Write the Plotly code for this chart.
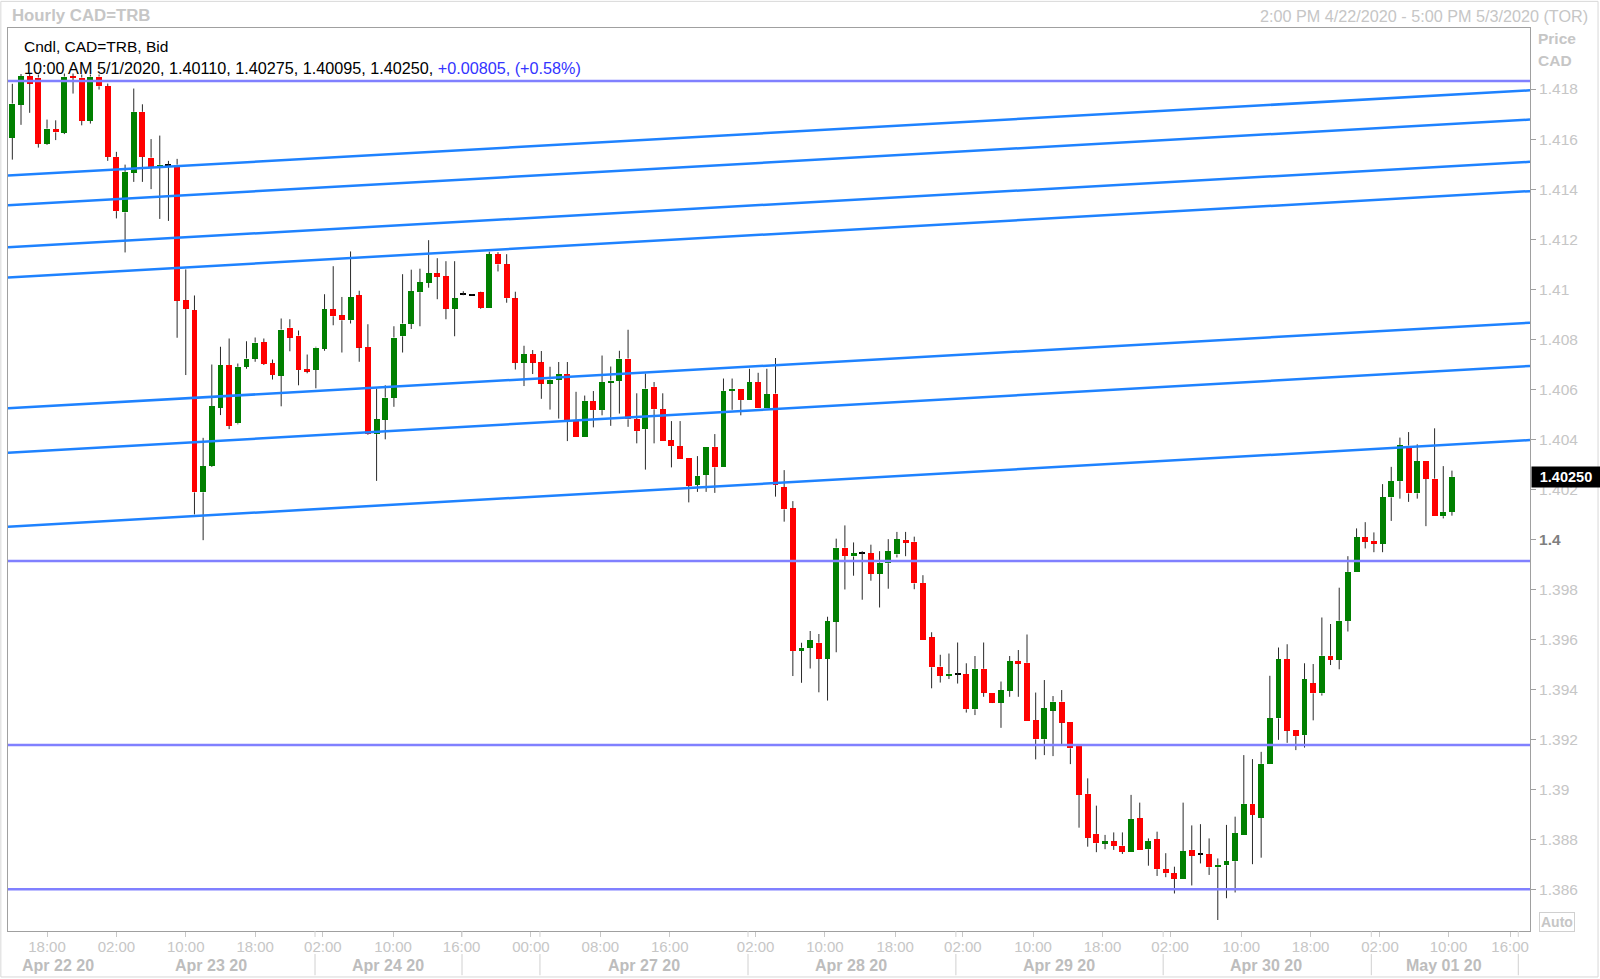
import plotly.graph_objects as go

# ---------------- data ----------------
opens = [1.41605, 1.41738, 1.41851, 1.41846, 1.41582, 1.41640, 1.41626, 1.41850, 1.41846, 1.41673,
         1.41850, 1.41811, 1.41529, 1.41307, 1.41465, 1.41709, 1.41526, 1.41486, 1.41497, 1.41498,
         1.40956, 1.40916, 1.40188, 1.40294, 1.40527, 1.40697, 1.40464, 1.40690, 1.40723, 1.40788,
         1.40704, 1.40655, 1.40846, 1.40815, 1.40680, 1.40677, 1.40763, 1.40919, 1.40895, 1.40876,
         1.40975, 1.40769, 1.40421, 1.40478, 1.40567, 1.40812, 1.40861, 1.40988, 1.41026, 1.41063,
         1.41052, 1.40922, 1.40979, 1.40978, 1.40987, 1.40926, 1.41140, 1.41099, 1.40963, 1.40707,
         1.40741, 1.40708, 1.40623, 1.40639, 1.40661, 1.40474, 1.40410, 1.40553, 1.40517, 1.40629,
         1.40633, 1.40723, 1.40480, 1.40441, 1.40610, 1.40520, 1.40397, 1.40373, 1.40324, 1.40219,
         1.40258, 1.40370, 1.40288, 1.40594, 1.40602, 1.40557, 1.40629, 1.40527, 1.40583, 1.40208,
         1.40124, 1.39554, 1.39566, 1.39587, 1.39523, 1.39671, 1.39967, 1.39932, 1.39945, 1.39945,
         1.39862, 1.39905, 1.39940, 1.39998, 1.39991, 1.39826, 1.39609, 1.39492, 1.39455, 1.39462,
         1.39462, 1.39321, 1.39483, 1.39388, 1.39348, 1.39395, 1.39514, 1.39507, 1.39278, 1.39201,
         1.39316, 1.39352, 1.39272, 1.39175, 1.38983, 1.38823, 1.38786, 1.38793, 1.38776, 1.38751,
         1.38885, 1.38762, 1.38802, 1.38682, 1.38666, 1.38644, 1.38759, 1.38742, 1.38742, 1.38690,
         1.38698, 1.38714, 1.38819, 1.38943, 1.38888, 1.39103, 1.39285, 1.39522, 1.39239, 1.39218,
         1.39425, 1.39385, 1.39535, 1.39518, 1.39675, 1.39868, 1.40008, 1.39994, 1.39983, 1.40168,
         1.40233, 1.40375, 1.40184, 1.40313, 1.40243, 1.40093, 1.40110]
highs = [1.41821, 1.41860, 1.41860, 1.41858, 1.41678, 1.41675, 1.41862, 1.41862, 1.41858, 1.41858,
         1.41858, 1.41822, 1.41549, 1.41498, 1.41802, 1.41739, 1.41600, 1.41614, 1.41513, 1.41521,
         1.41079, 1.40975, 1.40406, 1.40699, 1.40770, 1.40803, 1.40703, 1.40792, 1.40807, 1.40803,
         1.40719, 1.40883, 1.40880, 1.40835, 1.40739, 1.40770, 1.40980, 1.41092, 1.40969, 1.41151,
         1.40994, 1.40860, 1.40603, 1.40616, 1.40852, 1.41060, 1.41078, 1.41082, 1.41196, 1.41124,
         1.41112, 1.41112, 1.40992, 1.40980, 1.40990, 1.41150, 1.41148, 1.41140, 1.40990, 1.40774,
         1.40757, 1.40753, 1.40690, 1.40709, 1.40709, 1.40590, 1.40575, 1.40593, 1.40735, 1.40691,
         1.40754, 1.40838, 1.40584, 1.40663, 1.40629, 1.40584, 1.40473, 1.40473, 1.40324, 1.40333,
         1.40370, 1.40421, 1.40643, 1.40643, 1.40602, 1.40682, 1.40666, 1.40682, 1.40725, 1.40277,
         1.40153, 1.39587, 1.39634, 1.39622, 1.39691, 1.40003, 1.40056, 1.39988, 1.39953, 1.39979,
         1.39953, 1.40001, 1.40030, 1.40030, 1.40011, 1.39857, 1.39629, 1.39539, 1.39544, 1.39588,
         1.39505, 1.39534, 1.39588, 1.39388, 1.39432, 1.39534, 1.39558, 1.39620, 1.39388, 1.39438,
         1.39374, 1.39398, 1.39272, 1.39175, 1.39045, 1.38936, 1.38819, 1.38829, 1.38829, 1.38979,
         1.38948, 1.38805, 1.38832, 1.38746, 1.38692, 1.38948, 1.38857, 1.38862, 1.38805, 1.38725,
         1.38859, 1.38892, 1.39138, 1.39122, 1.39151, 1.39455, 1.39568, 1.39581, 1.39239, 1.39505,
         1.39502, 1.39688, 1.39662, 1.39807, 1.39933, 1.40044, 1.40069, 1.40028, 1.40221, 1.40290,
         1.40407, 1.40429, 1.40380, 1.40313, 1.40444, 1.40293, 1.40275]
lows = [1.41518, 1.41657, 1.41705, 1.41566, 1.41577, 1.41596, 1.41620, 1.41782, 1.41655, 1.41662,
        1.41798, 1.41513, 1.41283, 1.41147, 1.41429, 1.41429, 1.41400, 1.41281, 1.41273, 1.40806,
        1.40657, 1.40100, 1.39997, 1.40290, 1.40497, 1.40441, 1.40460, 1.40682, 1.40710, 1.40697,
        1.40639, 1.40532, 1.40752, 1.40616, 1.40664, 1.40604, 1.40754, 1.40856, 1.40747, 1.40863,
        1.40710, 1.40418, 1.40234, 1.40400, 1.40530, 1.40747, 1.40841, 1.40852, 1.41006, 1.40960,
        1.40880, 1.40812, 1.40976, 1.40976, 1.40922, 1.40926, 1.41071, 1.40946, 1.40679, 1.40613,
        1.40661, 1.40562, 1.40519, 1.40483, 1.40393, 1.40410, 1.40410, 1.40448, 1.40496, 1.40454,
        1.40503, 1.40450, 1.40384, 1.40279, 1.40384, 1.40393, 1.40288, 1.40322, 1.40148, 1.40190,
        1.40190, 1.40186, 1.40288, 1.40518, 1.40496, 1.40557, 1.40527, 1.40527, 1.40171, 1.40071,
        1.39454, 1.39427, 1.39484, 1.39389, 1.39356, 1.39549, 1.39800, 1.39855, 1.39759, 1.39835,
        1.39728, 1.39803, 1.39928, 1.39933, 1.39801, 1.39598, 1.39405, 1.39428, 1.39442, 1.39424,
        1.39308, 1.39298, 1.39371, 1.39346, 1.39247, 1.39371, 1.39371, 1.39276, 1.39121, 1.39138,
        1.39134, 1.39181, 1.39102, 1.38848, 1.38772, 1.38750, 1.38762, 1.38759, 1.38743, 1.38751,
        1.38759, 1.38696, 1.38655, 1.38650, 1.38585, 1.38644, 1.38617, 1.38705, 1.38659, 1.38479,
        1.38566, 1.38589, 1.38819, 1.38702, 1.38728, 1.39103, 1.39199, 1.39187, 1.39158, 1.39168,
        1.39277, 1.39376, 1.39498, 1.39481, 1.39632, 1.39868, 1.39964, 1.39949, 1.39949, 1.40074,
        1.40163, 1.40150, 1.40163, 1.40053, 1.40093, 1.40084, 1.40095]
closes = [1.41742, 1.41851, 1.41822, 1.41582, 1.41642, 1.41627, 1.41850, 1.41845, 1.41673, 1.41850,
          1.41811, 1.41529, 1.41312, 1.41469, 1.41709, 1.41529, 1.41489, 1.41497, 1.41497, 1.40954,
          1.40922, 1.40188, 1.40293, 1.40533, 1.40697, 1.40454, 1.40690, 1.40723, 1.40787, 1.40701,
          1.40657, 1.40839, 1.40807, 1.40677, 1.40673, 1.40767, 1.40919, 1.40892, 1.40876, 1.40967,
          1.40767, 1.40421, 1.40480, 1.40567, 1.40807, 1.40863, 1.40991, 1.41028, 1.41063, 1.41050,
          1.40922, 1.40963, 1.40979, 1.40978, 1.40926, 1.41140, 1.41099, 1.40964, 1.40707, 1.40741,
          1.40707, 1.40623, 1.40639, 1.40661, 1.40477, 1.40410, 1.40554, 1.40517, 1.40629, 1.40635,
          1.40723, 1.40480, 1.40433, 1.40603, 1.40520, 1.40393, 1.40373, 1.40322, 1.40215, 1.40254,
          1.40370, 1.40288, 1.40594, 1.40602, 1.40557, 1.40629, 1.40527, 1.40581, 1.40217, 1.40120,
          1.39554, 1.39567, 1.39598, 1.39523, 1.39674, 1.39967, 1.39934, 1.39945, 1.39945, 1.39862,
          1.39907, 1.39953, 1.40001, 1.39987, 1.39824, 1.39598, 1.39489, 1.39455, 1.39463, 1.39462,
          1.39321, 1.39483, 1.39388, 1.39348, 1.39397, 1.39514, 1.39503, 1.39276, 1.39201, 1.39325,
          1.39352, 1.39268, 1.39165, 1.38979, 1.38807, 1.38786, 1.38793, 1.38775, 1.38751, 1.38882,
          1.38759, 1.38795, 1.38682, 1.38666, 1.38644, 1.38754, 1.38736, 1.38742, 1.38690, 1.38699,
          1.38715, 1.38826, 1.38943, 1.38899, 1.39103, 1.39285, 1.39522, 1.39236, 1.39214, 1.39441,
          1.39385, 1.39535, 1.39518, 1.39675, 1.39870, 1.40008, 1.39991, 1.39983, 1.40168, 1.40233,
          1.40377, 1.40184, 1.40313, 1.40242, 1.40093, 1.40110, 1.40250]

hour_tick_pos = [4, 12, 20, 28, 35.8, 43.9, 51.8, 59.8, 67.8, 75.8, 85.7, 93.7, 101.8,
                 109.6, 117.7, 125.7, 133.5, 141.7, 149.7, 157.7, 165.6, 172.7]
hour_tick_text = ["18:00", "02:00", "10:00", "18:00", "02:00", "10:00", "16:00", "00:00",
                  "08:00", "16:00", "02:00", "10:00", "18:00", "02:00", "10:00", "18:00",
                  "02:00", "10:00", "18:00", "02:00", "10:00", "16:00"]
day_label_pos = [5.3, 22.9, 43.3, 72.8, 96.7, 120.7, 144.6, 165.1]
day_label_text = ["Apr 22 20", "Apr 23 20", "Apr 24 20", "Apr 27 20",
                  "Apr 28 20", "Apr 29 20", "Apr 30 20", "May 01 20"]
day_sep_pos = [34.9, 51.85, 60.84, 84.83, 108.8, 132.7, 156.7, 173.65]

y_tick_vals = [1.386, 1.388, 1.390, 1.392, 1.394, 1.396, 1.398, 1.400, 1.402,
               1.404, 1.406, 1.408, 1.410, 1.412, 1.414, 1.416, 1.418]
y_tick_text = ["1.386", "1.388", "1.39", "1.392", "1.394", "1.396", "1.398",
               "<span style='color:#7f7f7f'><b>1.4</b></span>", "1.402", "1.404", "1.406",
               "1.408", "1.41", "1.412", "1.414", "1.416", "1.418"]

h_levels = [1.41832, 1.39914, 1.39178, 1.38602]
chan_left = [1.41454, 1.41336, 1.41168, 1.41047, 1.40524, 1.40346, 1.40051]
chan_right = [1.41795, 1.41678, 1.41509, 1.41392, 1.40866, 1.40693, 1.40397]

last_price = 1.40250
x_min, x_max = -0.5, 175.0
y_min, y_max = 1.38435, 1.42044

# ---------------- build ----------------
FONT = "Liberation Sans, Arial, sans-serif"
GRAY = "#c6c6c6"
n = len(opens)
idx = list(range(n))

wx, wy = [], []
bases, heights, colors = [], [], []
for i in idx:
    o, h, l, c = opens[i], highs[i], lows[i], closes[i]
    top, bot = max(o, c), min(o, c)
    wx += [i, i, None, i, i, None]
    wy += [top, h, None, bot, l, None]
    if c > o:
        col = "#008000"
    elif c < o:
        col = "#ff0000"
    else:
        col = "#000000"
    hgt = max(top - bot, 0.00004)
    bases.append((top + bot) / 2 - hgt / 2)
    heights.append(hgt)
    colors.append(col)

fig = go.Figure()
fig.add_trace(go.Scatter(x=wx, y=wy, mode="lines", line=dict(color="#2a2a2a", width=1),
                         hoverinfo="skip", showlegend=False))
fig.add_trace(go.Bar(x=idx, y=heights, base=bases, width=0.68,
                     marker=dict(color=colors, line=dict(width=0)),
                     hoverinfo="skip", showlegend=False))

shapes = []
for lv in h_levels:
    shapes.append(dict(type="line", xref="paper", yref="y", x0=0, x1=1, y0=lv, y1=lv,
                       line=dict(color="#8080ff", width=2.5)))
for a, b in zip(chan_left, chan_right):
    shapes.append(dict(type="line", xref="x", yref="y", x0=x_min, x1=x_max, y0=a, y1=b,
                       line=dict(color="#1e82ff", width=2.5)))
for s in day_sep_pos:
    shapes.append(dict(type="line", xref="x", yref="paper", x0=s, x1=s, y0=-0.0255, y1=-0.049,
                       line=dict(color="#d0d0d0", width=1)))
    shapes.append(dict(type="line", xref="x", yref="paper", x0=s, x1=s, y0=0, y1=-0.0066,
                       line=dict(color="#d0d0d0", width=1)))
# outer window frame
shapes.append(dict(type="rect", xref="paper", yref="paper", x0=-0.0047, x1=1.0447,
                   y0=-0.0509, y1=1.0295, line=dict(color="#d8d8d8", width=1)))

ann = []
ann.append(dict(xref="paper", yref="paper", x=0.0012, y=1.0134, xanchor="left", yanchor="middle",
                text="<b>Hourly CAD=TRB</b>", showarrow=False,
                font=dict(family=FONT, size=16.8, color=GRAY)))
ann.append(dict(xref="paper", yref="paper", x=1.0394, y=1.0134, xanchor="right", yanchor="middle",
                text="2:00 PM 4/22/2020 - 5:00 PM 5/3/2020 (TOR)", showarrow=False,
                font=dict(family=FONT, size=16.2, color=GRAY)))
ann.append(dict(xref="paper", yref="paper", x=1.004, y=0.9885, xanchor="left", yanchor="middle",
                text="<b>Price</b>", showarrow=False, font=dict(family=FONT, size=15.5, color=GRAY)))
ann.append(dict(xref="paper", yref="paper", x=1.004, y=0.9641, xanchor="left", yanchor="middle",
                text="<b>CAD</b>", showarrow=False, font=dict(family=FONT, size=15.5, color=GRAY)))
ann.append(dict(xref="paper", yref="paper", x=0.0091, y=0.9796, xanchor="left", yanchor="middle",
                text="Cndl, CAD=TRB, Bid", showarrow=False,
                font=dict(family=FONT, size=15.5, color="#000000")))
ann.append(dict(xref="paper", yref="paper", x=0.0091, y=0.9558, xanchor="left", yanchor="middle",
                text="10:00 AM 5/1/2020, 1.40110, 1.40275, 1.40095, 1.40250, "
                     "<span style='color:#3434ff'>+0.00805, (+0.58%)</span>",
                showarrow=False, font=dict(family=FONT, size=16.2, color="#000000")))
ann.append(dict(xref="paper", yref="y", x=1.0007, y=last_price, xanchor="left", yanchor="middle",
                text="<b>1.40250</b>", showarrow=False, bgcolor="#000000", width=66, height=18,
                font=dict(family=FONT, size=14.5, color="#ffffff")))
ann.append(dict(xref="paper", yref="paper", x=1.0178, y=0.0105, xanchor="center", yanchor="middle",
                text="<b>Auto</b>", showarrow=False, bordercolor="#d0d0d0", borderwidth=1, borderpad=1,
                font=dict(family=FONT, size=14, color=GRAY)))
for p, t in zip(day_label_pos, day_label_text):
    ann.append(dict(xref="x", yref="paper", x=p, y=-0.0385, xanchor="center", yanchor="middle",
                    text="<b>" + t + "</b>", showarrow=False,
                    font=dict(family=FONT, size=16, color="#bdbdbd")))

fig.update_layout(
    width=1600, height=979,
    margin=dict(l=8, r=70, t=28, b=48, autoexpand=False),
    paper_bgcolor="white", plot_bgcolor="white",
    shapes=shapes, annotations=ann, showlegend=False, bargap=0,
    font=dict(family=FONT),
)
fig.update_xaxes(range=[x_min, x_max], tickmode="array", tickvals=hour_tick_pos,
                 ticktext=hour_tick_text, ticks="outside", ticklen=5, tickcolor="#c8c8c8",
                 ticklabelstandoff=-3,
                 tickfont=dict(family=FONT, size=15, color=GRAY), showgrid=False, zeroline=False,
                 showline=True, linecolor="#a0a0a0", linewidth=1, mirror=True, fixedrange=True,
                 automargin=False)
fig.update_yaxes(range=[y_min, y_max], side="right", tickmode="array", tickvals=y_tick_vals,
                 ticktext=y_tick_text, ticks="outside", ticklen=5, tickcolor="#a0a0a0",
                 tickfont=dict(family=FONT, size=15.5, color=GRAY), showgrid=False, zeroline=False,
                 showline=True, linecolor="#a0a0a0", linewidth=1, mirror=True, fixedrange=True,
                 automargin=False)

fig.write_html("out.html", config={"displayModeBar": False},
               post_script="document.body.style.margin='0px';")
